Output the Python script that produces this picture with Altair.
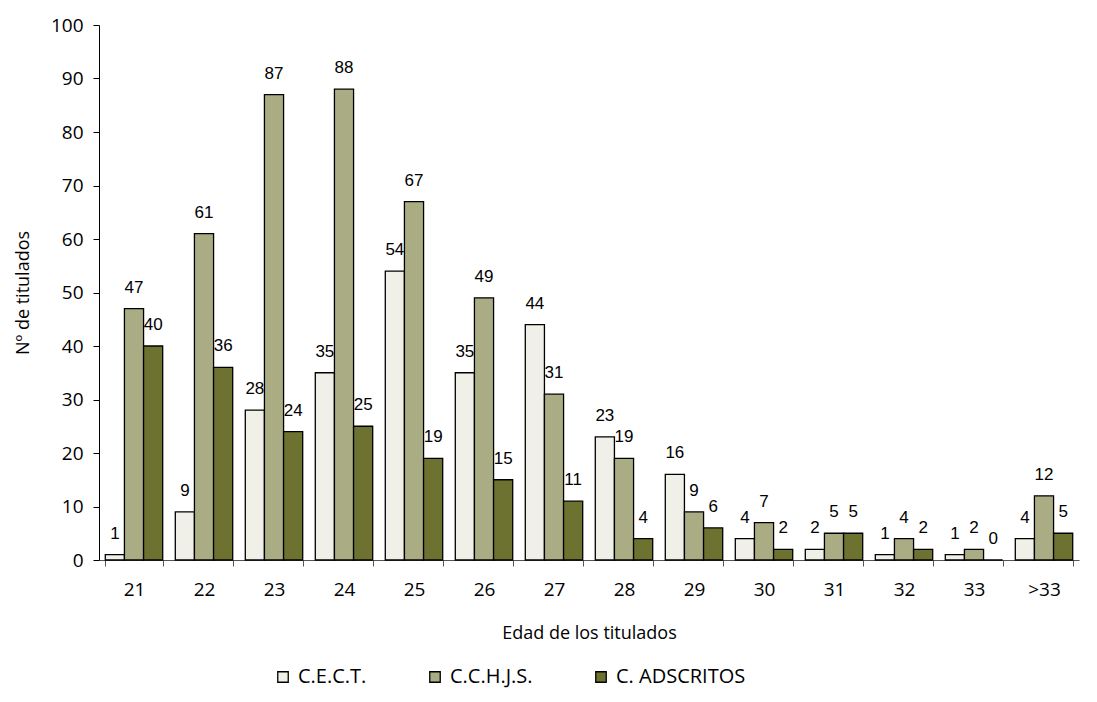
import altair as alt
import pandas as pd

categories = ["21", "22", "23", "24", "25", "26", "27", "28", "29", "30", "31", "32", "33", ">33"]
series_names = ["C.E.C.T.", "C.C.H.J.S.", "C. ADSCRITOS"]
cect = [1, 9, 28, 35, 54, 35, 44, 23, 16, 4, 2, 1, 1, 4]
cchjs = [47, 61, 87, 88, 67, 49, 31, 19, 9, 7, 5, 4, 2, 12]
adscritos = [40, 36, 24, 25, 19, 15, 11, 4, 6, 2, 5, 2, 0, 5]
colors = ["#F0F0E8", "#AAAD84", "#6E7230"]

rows = []
for name, vals in zip(series_names, [cect, cchjs, adscritos]):
    for c, v in zip(categories, vals):
        rows.append({"edad": c, "serie": name, "valor": v})
df = pd.DataFrame(rows)

FONT = "Open Sans"

x = alt.X("edad:N", sort=categories,
          scale=alt.Scale(paddingInner=0.18, paddingOuter=0.09),
          axis=alt.Axis(title="Edad de los titulados", labelAngle=0, tickBand="extent",
                        tickSize=6, labelPadding=14, titlePadding=25,
                        labelFont=FONT, labelFontSize=19, titleFont=FONT, titleFontSize=18,
                        titleFontWeight="normal", domainColor="#555555", tickColor="#555555",
                        labelColor="black", titleColor="black"))
xoff = alt.XOffset("serie:N", sort=series_names, scale=alt.Scale(paddingInner=0, paddingOuter=0))
y = alt.Y("valor:Q", scale=alt.Scale(domain=[0, 100]),
          axis=alt.Axis(title="Nº de titulados", values=list(range(0, 101, 10)), grid=False,
                        tickSize=6, labelPadding=10, titlePadding=18,
                        labelFont=FONT, labelFontSize=19, titleFont=FONT, titleFontSize=18,
                        titleFontWeight="normal", domainColor="black", tickColor="black",
                        labelColor="black", titleColor="black"))

bars = alt.Chart(df).mark_bar(stroke="black", strokeWidth=1.3).encode(
    x=x, xOffset=xoff, y=y,
    color=alt.Color("serie:N", sort=series_names,
                    scale=alt.Scale(domain=series_names, range=colors),
                    legend=alt.Legend(title=None, orient="none", direction="horizontal",
                                      legendX=174, legendY=642, symbolType="square",
                                      symbolSize=110, symbolStrokeColor="black",
                                      symbolStrokeWidth=1.3, labelFont=FONT, labelFontSize=20,
                                      labelColor="black", columnPadding=58, padding=0,
                                      labelOffset=5)),
)

labels = alt.Chart(df).mark_text(baseline="alphabetic", dy=-16, font="Liberation Sans",
                                 fontSize=17, color="black").encode(
    x=x, xOffset=xoff, y=y, text="valor:Q"
)

chart = alt.layer(bars, labels).properties(
    width=980, height=535,
    autosize=alt.AutoSizeParams(type="none"),
    padding={"left": 91, "top": 17, "right": 5, "bottom": 134},
).configure_view(stroke=None)

chart.save("out.html", embed_options={"renderer": "svg", "actions": False})
